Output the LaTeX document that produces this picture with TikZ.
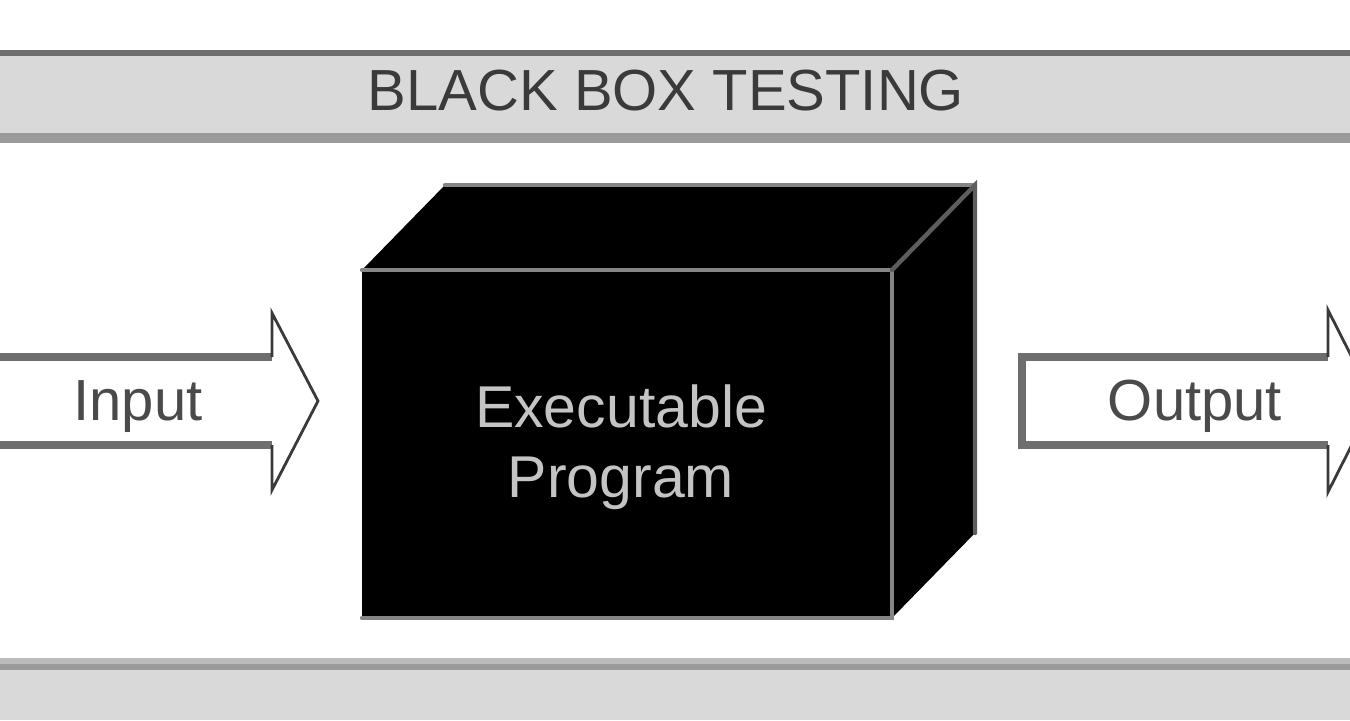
\documentclass[tikz,border=0pt]{standalone}
\usepackage{fontspec}
\setmainfont{Liberation Sans}
\usetikzlibrary{calc}
\usetikzlibrary{positioning}
\definecolor{barfill}{HTML}{D9D9D9}
\definecolor{bartop}{HTML}{6F6F6F}
\definecolor{barlow}{HTML}{9A9A9A}
\definecolor{barlight}{HTML}{BBBBBB}
\definecolor{edgegray}{HTML}{858585}
\definecolor{shaftgray}{HTML}{6E6E6E}
\definecolor{headgray}{HTML}{3A3A3A}
\definecolor{labelgray}{HTML}{4A4A4A}
\definecolor{boxtext}{HTML}{C4C4C4}
\tikzset{
	every path/.style={line join=miter},
	bar/.style={
		fill=barfill,
	},
	barline/.style={
		line width=3pt,
	},
	cube/.style={
		fill=black,
	},
	cubeedge/.style={
		draw=edgegray,
		line width=2.2pt,
		line cap=round,
	},
	shaft/.style={
		draw=shaftgray,
		line width=3.6pt,
	},
	head/.style={
		draw=headgray,
		line width=1.4pt,
	},
	label/.style={
		font=\fontsize{29}{35}\selectfont,
		text=labelgray,
		anchor=base,
		inner sep=0pt,
	},
}

\begin{document}
\begin{tikzpicture}[x=0.5pt,y=-0.5pt]
	\useasboundingbox (0,0) rectangle (1350,720);
	\fill[white] (0,0) rectangle (1350,720);

	% title bar
	\fill[bar] (0,53) rectangle (1350,138);
	\draw[barline,draw=bartop] (0,53) -- (1350,53);
	\draw[barline,draw=barlow,line width=5pt] (0,138) -- (1350,138);
	\node[label,text=headgray] (title) at (666,110) {BLACK BOX TESTING};

	% bottom bar
	\fill[bar] (0,667) rectangle (1350,720);
	\draw[barline,draw=barlight] (0,661) -- (1350,661);
	\draw[barline,draw=barlow] (0,667) -- (1350,667);

	% the box
	\coordinate (fnw) at (362,270);
	\coordinate (fne) at (892,270);
	\coordinate (fse) at (892,618);
	\coordinate (fsw) at (362,618);
	\coordinate (bnw) at (445,185);
	\coordinate (bne) at (975,185);
	\coordinate (bse) at (975,533);

	\fill[cube] (fnw) -- (bnw) -- (bne) -- (bse) -- (fse) -- (fsw) -- cycle;
	\draw[cubeedge] (fsw) -- (fse) -- (fne) -- (fnw);
	\draw[cubeedge] (bnw) -- (bne);
	\draw[cubeedge,draw=edgegray!70!black] (fne) -- (bne) -- (bse);
	\node[label,text=boxtext,anchor=center,align=center,
		font=\fontsize{29.5}{35}\selectfont] (prog) at (621,447) {Executable\\Program};

	% input arrow
	\coordinate (inup) at (272,357);
	\coordinate (inlow) at (272,445);
	\draw[shaft] (-10,357) -- (inup);
	\draw[shaft] (-10,445) -- (inlow);
	\draw[head] (inup) -- (272,313) -- (318,401) -- (272,490) -- (inlow);
	\node[label] (input) at (138,420) {Input};

	% output arrow
	\coordinate (outup) at (1328,357);
	\coordinate (outlow) at (1328,445);
	\draw[shaft] (outup) -- (1022,357) -- (1022,445) -- (outlow);
	\draw[head] (outup) -- (1328,310) -- (1374,401) -- (1328,492) -- (outlow);
	\node[label] (output) at (1195,420) {Output};

\end{tikzpicture}
\end{document}
